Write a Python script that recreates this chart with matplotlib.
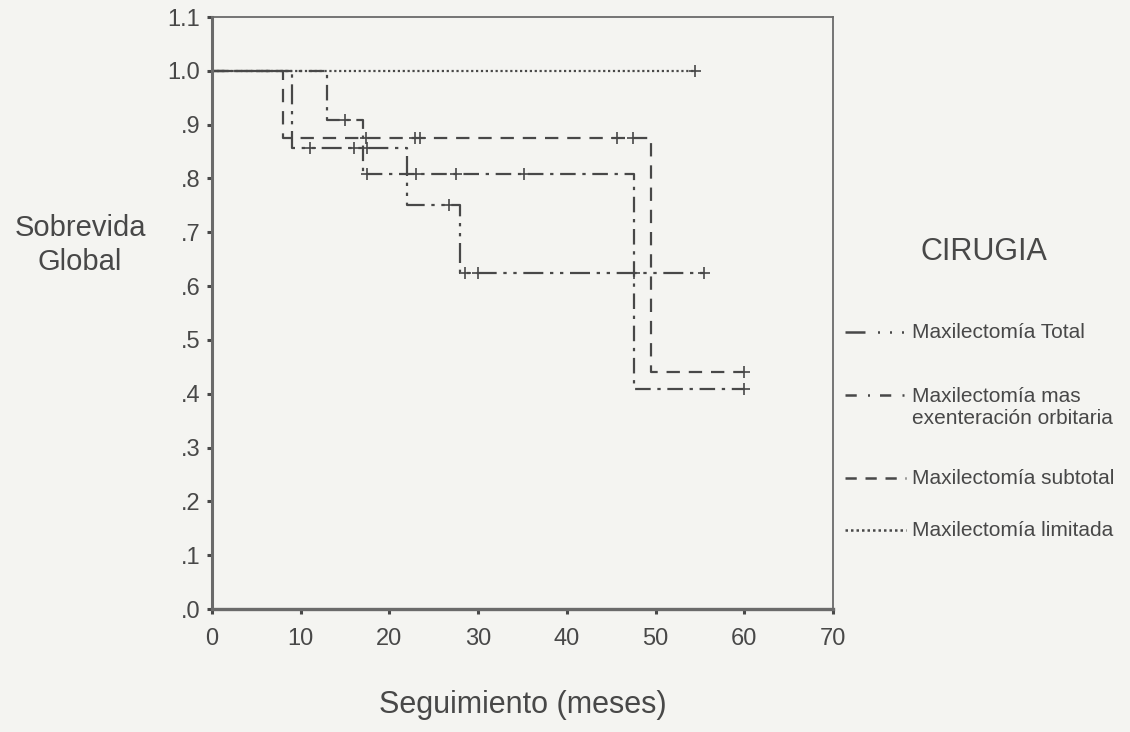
import numpy as np
import matplotlib
matplotlib.use("Agg")
import matplotlib.pyplot as plt

plt.rcParams['font.family'] = ['Liberation Sans', 'DejaVu Sans']

# curvas de Kaplan-Meier (tiempo del escalon, sobrevida despues)
total_t = [0, 9, 22, 28, 56]
total_s = [1.0, 0.857, 0.75, 0.625, 0.625]
total_cens = [11, 16, 17.5, 26.7, 28.5, 30, 47.6, 55.5]

exent_t = [0, 13, 17, 47.6, 60]
exent_s = [1.0, 0.909, 0.808, 0.408, 0.408]
exent_cens = [15, 17.5, 23, 27.5, 35.2, 60]

subtot_t = [0, 8, 49.5, 60]
subtot_s = [1.0, 0.875, 0.44, 0.44]
subtot_cens = [17.4, 22.9, 23.4, 45.6, 47.4, 60]

limit_t = [0, 54.5]
limit_s = [1.0, 1.0]
limit_cens = [54.5]

nombres = ["Maxilectomía Total", "Maxilectomía mas\nexenteración orbitaria",
           "Maxilectomía subtotal", "Maxilectomía limitada"]
estilos = [(0, (9, 3, 1.5, 3, 1.5, 3)), (0, (7, 3, 1.5, 3)), (0, (6, 4)), (0, (1, 1.2))]
estilos_ley = [(0, (8, 5, 0.8, 4, 0.8, 4, 0.8, 10)), (0, (4.5, 4.5, 0.8, 4)),
               (0, (4.5, 3.5)), (0, (1, 1.2))]

yticks = [0, .1, .2, .3, .4, .5, .6, .7, .8, .9, 1.0, 1.1]
ylabels = [".0", ".1", ".2", ".3", ".4", ".5", ".6", ".7", ".8", ".9", "1.0", "1.1"]
xticks = [0, 10, 20, 30, 40, 50, 60, 70]

fondo = '#f4f4f1'
gris = '#484848'

fig = plt.figure(figsize=(11.3, 7.32), dpi=100, facecolor=fondo)
ax = fig.add_axes([212 / 1130, 1 - 609 / 732, (833 - 212) / 1130, (609 - 17) / 732],
                  facecolor=fondo)

series = [(total_t, total_s, total_cens), (exent_t, exent_s, exent_cens),
          (subtot_t, subtot_s, subtot_cens), (limit_t, limit_s, limit_cens)]

for (t, s, c), ls in zip(series, estilos):
    ax.step(t, s, where='post', color=gris, lw=1.6, linestyle=ls)
    idx = np.searchsorted(t, c, side='right') - 1
    ax.plot(c, np.array(s)[idx], ls='none', marker='+', ms=9, mew=1.2, color=gris)

ax.set_xlim(0, 70)
ax.set_ylim(0, 1.1)
ax.set_xticks(xticks)
ax.set_yticks(yticks)
ax.set_yticklabels(ylabels)
ax.tick_params(axis='both', labelsize=17, colors=gris, width=2.2, length=3.5)
ax.tick_params(axis='x', pad=10)
ax.tick_params(axis='y', pad=5)
for sp in ax.spines.values():
    sp.set_color('#6a6a6a')
    sp.set_linewidth(1.3)
ax.spines['bottom'].set_linewidth(2.4)
ax.spines['left'].set_linewidth(2.2)

fig.text(80 / 1130, 1 - 245 / 732, "Sobrevida\nGlobal", ha='center', va='center',
         fontsize=21, color=gris, linespacing=1.3)
fig.text(523 / 1130, 1 - 705 / 732, "Seguimiento (meses)", ha='center', va='center',
         fontsize=22, color=gris)
fig.text(984 / 1130, 1 - 252 / 732, "CIRUGIA", ha='center', va='center',
         fontsize=22, color=gris)

# leyenda manual
filas = [332, 395, 478, 530]
for nombre, ls, y in zip(nombres, estilos_ley, filas):
    yf = 1 - y / 732
    fig.add_artist(plt.Line2D([845 / 1130, 906 / 1130], [yf, yf], color=gris,
                              lw=1.8, linestyle=ls, transform=fig.transFigure))
    if '\n' in nombre:
        yf = 1 - (y + 12.5) / 732
    fig.text(912 / 1130, yf, nombre, ha='left', va='center',
             fontsize=15, color=gris, linespacing=1.2)

fig.savefig("out.png", dpi=100, facecolor=fondo)
